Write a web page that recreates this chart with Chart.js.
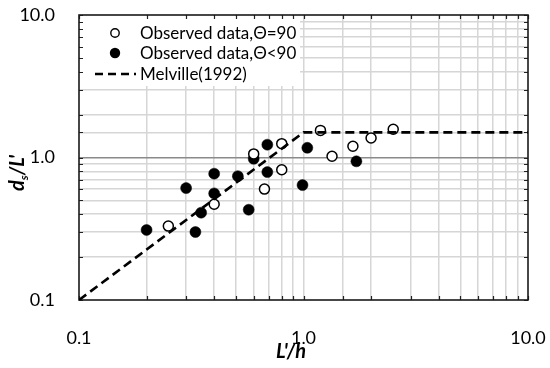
<!DOCTYPE html>
<html>
<head>
<meta charset="utf-8">
<script src="https://cdn.jsdelivr.net/npm/chart.js@4.4.1/dist/chart.umd.min.js"></script>
<style>
  html, body { margin: 0; padding: 0; background: #fff; }
  #wrap { width: 550px; height: 368px; }
</style>
</head>
<body>
<div id="wrap"><canvas id="c" width="550" height="368"></canvas></div>
<script>
// ---- data ----
const openX   = [0.25, 0.40, 0.60, 0.67, 0.80, 0.80, 1.19, 1.34, 1.66, 2.00, 2.51];
const openY   = [0.33, 0.47, 1.06, 0.60, 1.25, 0.82, 1.55, 1.02, 1.20, 1.37, 1.58];
const filledX = [0.20, 0.30, 0.33, 0.35, 0.40, 0.40, 0.51, 0.57, 0.60, 0.69, 0.69, 1.04, 0.99, 1.72];
const filledY = [0.31, 0.61, 0.30, 0.41, 0.77, 0.56, 0.74, 0.43, 0.98, 1.23, 0.79, 1.17, 0.64, 0.94];
const melvilleX = [0.1, 1.0, 10.0];
const melvilleY = [0.1, 1.5, 1.5];
const seriesLabels = ['Observed data,\u0398=90', 'Observed data,\u0398<90', 'Melville(1992)'];
const tickLabels = { 0.1: '0.1', 1: '1.0', 10: '10.0' };
const xTitle = "L'/h";
const yTitleMain = 'd', yTitleSub = 's', yTitleRest = "/L'";

const toPts = (xs, ys) => xs.map((x, i) => ({ x: x, y: ys[i] }));
const FONT = 'Lato, "Open Sans", sans-serif';

function labelFor(v) {
  for (const k in tickLabels) {
    if (Math.abs(v - Number(k)) < 1e-9 * Number(k)) return tickLabels[k];
  }
  return '';
}
function isMajor(v) { return labelFor(v) !== ''; }

const framePlugin = {
  id: 'frame',
  beforeDatasetsDraw(chart) {
    const ctx = chart.ctx, a = chart.chartArea;
    ctx.save();
    // legend background
    ctx.fillStyle = '#ffffff';
    ctx.fillRect(a.left + 1, a.top + 1, 220, 70);
    // inward tick marks
    ctx.strokeStyle = '#222';
    ctx.lineWidth = 1.2;
    const xs = chart.scales.x, ys = chart.scales.y;
    xs.ticks.forEach(t => {
      const p = Math.round(xs.getPixelForValue(t.value)) + 0.5;
      const L = 4;
      ctx.beginPath();
      ctx.moveTo(p, a.bottom); ctx.lineTo(p, a.bottom - L);
      ctx.moveTo(p, a.top); ctx.lineTo(p, a.top + L);
      ctx.stroke();
    });
    ys.ticks.forEach(t => {
      const p = Math.round(ys.getPixelForValue(t.value)) + 0.5;
      const L = 4;
      ctx.beginPath();
      ctx.moveTo(a.left, p); ctx.lineTo(a.left + L, p);
      ctx.moveTo(a.right, p); ctx.lineTo(a.right - L, p);
      ctx.stroke();
    });
    // frame
    ctx.strokeStyle = '#1a1a1a';
    ctx.lineWidth = 1.6;
    ctx.strokeRect(a.left, a.top, a.right - a.left, a.bottom - a.top);
    ctx.restore();
  },
  afterDraw(chart) {
    const ctx = chart.ctx, a = chart.chartArea;
    ctx.save();
    // legend
    const ds = chart.data.datasets;
    const rows = [33, 53, 74];
    const mx = 115, tx = 140;
    ctx.font = '17px ' + FONT;
    ctx.textBaseline = 'middle';
    // open marker
    ctx.beginPath(); ctx.arc(mx, rows[0], 4.2, 0, Math.PI * 2);
    ctx.fillStyle = '#fff'; ctx.fill();
    ctx.strokeStyle = '#000'; ctx.lineWidth = 1.4; ctx.stroke();
    // filled marker
    ctx.beginPath(); ctx.arc(mx, rows[1], 5.2, 0, Math.PI * 2);
    ctx.fillStyle = '#000'; ctx.fill();
    // dashed line
    ctx.beginPath(); ctx.setLineDash([8, 5]); ctx.lineWidth = 2.5;
    ctx.moveTo(95, rows[2]); ctx.lineTo(136, rows[2]); ctx.stroke();
    ctx.setLineDash([]);
    ctx.fillStyle = '#000';
    for (let i = 0; i < 3; i++) ctx.fillText(ds[i].label, tx, rows[i] + 1);

    // x title
    ctx.font = 'italic bold 20px ' + FONT;
    ctx.textAlign = 'center';
    ctx.textBaseline = 'alphabetic';
    ctx.fillText(xTitle, 291, 358);

    // y title (rotated, with subscript)
    ctx.translate(24, 173);
    ctx.rotate(-Math.PI / 2);
    const fMain = 'italic bold 20px ' + FONT, fSub = 'italic bold 12px ' + FONT;
    ctx.font = fMain; const w1 = ctx.measureText(yTitleMain).width;
    const w3 = ctx.measureText(yTitleRest).width;
    ctx.font = fSub; const w2 = ctx.measureText(yTitleSub).width;
    let x0 = -(w1 + w2 + w3) / 2;
    ctx.textAlign = 'left';
    ctx.font = fMain; ctx.fillText(yTitleMain, x0, 0);
    ctx.font = fSub; ctx.fillText(yTitleSub, x0 + w1, 4);
    ctx.font = fMain; ctx.fillText(yTitleRest, x0 + w1 + w2, 0);
    ctx.restore();
  }
};

new Chart(document.getElementById('c'), {
  type: 'scatter',
  data: {
    datasets: [
      {
        label: seriesLabels[0],
        data: toPts(openX, openY),
        pointRadius: 5,
        pointBackgroundColor: '#fff',
        pointBorderColor: '#000',
        pointBorderWidth: 1.5,
        order: 2
      },
      {
        label: seriesLabels[1],
        data: toPts(filledX, filledY),
        pointRadius: 5.5,
        pointBackgroundColor: '#000',
        pointBorderColor: '#000',
        pointBorderWidth: 0.5,
        order: 3
      },
      {
        label: seriesLabels[2],
        data: toPts(melvilleX, melvilleY),
        showLine: true,
        borderColor: '#000',
        borderWidth: 2.6,
        borderDash: [9, 5],
        pointRadius: 0,
        fill: false,
        tension: 0,
        order: 1
      }
    ]
  },
  plugins: [framePlugin],
  options: {
    responsive: false,
    animation: false,
    events: [],
    layout: { padding: { top: 15, right: 22, left: 0, bottom: 0 } },
    plugins: { legend: { display: false }, tooltip: { enabled: false }, title: { display: false } },
    scales: {
      x: {
        type: 'logarithmic',
        min: 0.1, max: 10,
        afterFit(s) { s.height = 68; s.paddingLeft = 0; s.paddingRight = 0; },
        border: { display: false },
        grid: {
          drawTicks: false,
          color: c => (c.tick && isMajor(c.tick.value) && c.tick.value !== 1) ? 'rgba(0,0,0,0)' : '#d6d6d6',
          lineWidth: 1.5
        },
        ticks: {
          autoSkip: false,
          maxRotation: 0,
          padding: 27,
          color: '#000',
          font: { family: FONT, size: 18 },
          callback: (v) => labelFor(v)
        }
      },
      y: {
        type: 'logarithmic',
        min: 0.1, max: 10,
        afterFit(s) { s.width = 79; s.paddingTop = 0; s.paddingBottom = 0; },
        border: { display: false },
        grid: {
          drawTicks: false,
          color: c => {
            if (!c.tick) return '#d6d6d6';
            if (Math.abs(c.tick.value - 1) < 1e-9) return '#8a8a8a';
            return isMajor(c.tick.value) ? 'rgba(0,0,0,0)' : '#d6d6d6';
          },
          lineWidth: 1.5
        },
        ticks: {
          autoSkip: false,
          padding: 24,
          color: '#000',
          font: { family: FONT, size: 18 },
          callback: (v) => labelFor(v)
        }
      }
    }
  }
});
</script>
</body>
</html>
